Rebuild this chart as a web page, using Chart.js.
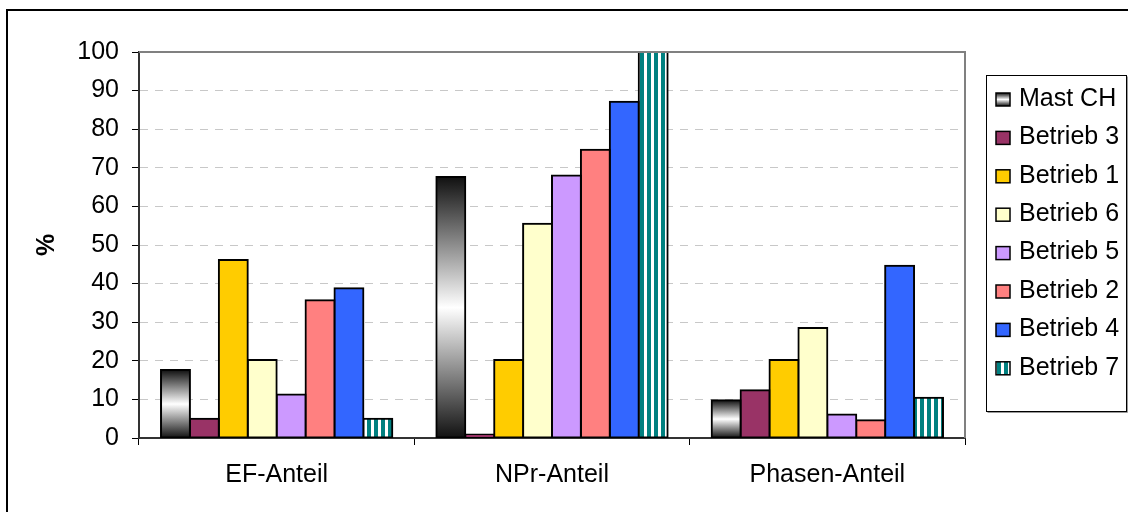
<!DOCTYPE html>
<html>
<head>
<meta charset="utf-8">
<script src="https://cdn.jsdelivr.net/npm/chart.js@4/dist/chart.umd.min.js"></script>
<style>
  html, body { margin: 0; padding: 0; background: #fff; }
  #wrap { width: 1128px; height: 512px; position: relative; }
</style>
</head>
<body>
<div id="wrap"><canvas id="c" width="1128" height="512"></canvas></div>
<script>
// Categories and per-series values (%)
const categories = ['EF-Anteil', 'NPr-Anteil', 'Phasen-Anteil'];
const seriesNames = ['Mast CH', 'Betrieb 3', 'Betrieb 1', 'Betrieb 6', 'Betrieb 5', 'Betrieb 2', 'Betrieb 4', 'Betrieb 7'];
const mastCH   = [17.6, 67.6, 9.8];
const betrieb3 = [5.0, 0.9, 12.4];
const betrieb1 = [46.1, 20.2, 20.2];
const betrieb6 = [20.2, 55.5, 28.5];
const betrieb5 = [11.3, 68.0, 6.1];
const betrieb2 = [35.7, 74.7, 4.6];
const betrieb4 = [38.8, 87.1, 44.6];
const betrieb7 = [5.0, 100, 10.4];
const yTicks = [0, 10, 20, 30, 40, 50, 60, 70, 80, 90, 100];

const FONT = '"Liberation Sans", Arial, Helvetica, sans-serif';
Chart.defaults.font.family = FONT;
Chart.defaults.color = '#000';

// Vertical teal/white stripe fill
function stripePattern() {
  const c = document.createElement('canvas');
  c.width = 7; c.height = 7;
  const g = c.getContext('2d');
  g.fillStyle = '#ffffff'; g.fillRect(0, 0, 7, 7);
  g.fillStyle = '#008080'; g.fillRect(3, 0, 4, 7);
  return g.createPattern(c, 'repeat');
}
const stripes = stripePattern();

// Black-white-black vertical gradient spanning a given pixel range
function metalGradient(ctx, top, bottom) {
  const g = ctx.createLinearGradient(0, top, 0, bottom);
  g.addColorStop(0, '#111');
  g.addColorStop(0.5, '#fff');
  g.addColorStop(1, '#111');
  return g;
}

const mastFill = (c) => {
  const chart = c.chart;
  if (!chart.chartArea || c.type !== 'data' || !chart.scales.y) return '#999';
  const y = chart.scales.y;
  return metalGradient(chart.ctx, y.getPixelForValue(c.raw), y.getPixelForValue(0));
};

const seriesValues = [mastCH, betrieb3, betrieb1, betrieb6, betrieb5, betrieb2, betrieb4, betrieb7];
const seriesFills = [mastFill, '#993366', '#FFCC00', '#FFFFCC', '#CC99FF', '#FF8080', '#3366FF', stripes];

const datasets = seriesNames.map((name, i) => ({
  label: name,
  data: seriesValues[i],
  backgroundColor: seriesFills[i],
  borderColor: '#000',
  borderWidth: 2,
  borderSkipped: false,
  inflateAmount: 1,
  barPercentage: 1.0,
  categoryPercentage: 0.84
}));

// Frame, plot border and legend box
const decor = {
  id: 'decor',
  beforeDraw(chart) {
    const ctx = chart.ctx;
    ctx.save();
    ctx.fillStyle = '#fff';
    ctx.fillRect(0, 0, chart.width, chart.height);
    ctx.restore();
  },
  afterDatasetsDraw(chart) {
    const ctx = chart.ctx, a = chart.chartArea;
    ctx.save();
    ctx.strokeStyle = '#808080';
    ctx.lineWidth = 2;
    ctx.beginPath();
    ctx.moveTo(a.left, a.top);
    ctx.lineTo(a.right, a.top);
    ctx.lineTo(a.right, a.bottom);
    ctx.stroke();
    ctx.restore();
  },
  afterDraw(chart) {
    const ctx = chart.ctx;
    ctx.save();
    // outer frame
    ctx.strokeStyle = '#000';
    ctx.lineWidth = 2;
    ctx.strokeRect(7, 10, 1300, 700);
    // legend box with a light shadow on the right/bottom
    const lx = 986.5, ly = 75.5, lw = 140, lh = 336;
    ctx.fillStyle = '#fff';
    ctx.fillRect(lx, ly, lw, lh);
    ctx.strokeStyle = '#999';
    ctx.lineWidth = 1;
    ctx.beginPath();
    ctx.moveTo(lx + 1, ly + lh + 1);
    ctx.lineTo(lx + lw + 1, ly + lh + 1);
    ctx.lineTo(lx + lw + 1, ly + 1);
    ctx.stroke();
    ctx.strokeStyle = '#000';
    ctx.strokeRect(lx, ly, lw, lh);
    ctx.font = '25px ' + FONT;
    ctx.textBaseline = 'alphabetic';
    ctx.textAlign = 'left';
    chart.data.datasets.forEach((ds, i) => {
      const base = 105.7 + i * 38.4;
      const sx = 996, sy = base - 12.7, sw = 14, sh = 13;
      let fill = ds.backgroundColor;
      if (typeof fill === 'function') fill = metalGradient(ctx, sy, sy + sh);
      ctx.fillStyle = fill;
      ctx.fillRect(sx, sy, sw, sh);
      ctx.strokeStyle = '#000';
      ctx.lineWidth = 1.5;
      ctx.strokeRect(sx, sy, sw, sh);
      ctx.fillStyle = '#000';
      ctx.fillText(ds.label, 1019, base);
    });
    ctx.restore();
  }
};

new Chart(document.getElementById('c'), {
  type: 'bar',
  data: { labels: categories, datasets },
  options: {
    responsive: false,
    animation: false,
    devicePixelRatio: 1,
    layout: { padding: { left: 0, top: 52, right: 163, bottom: 0 } },
    plugins: {
      legend: { display: false },
      tooltip: { enabled: false }
    },
    scales: {
      x: {
        offset: true,
        grid: {
          offset: true,
          drawOnChartArea: false,
          drawTicks: true,
          tickLength: 7,
          tickColor: '#000',
          tickWidth: 1
        },
        border: { display: true, color: '#333', width: 2 },
        ticks: { font: { size: 25 }, color: '#000', padding: 15 },
        afterFit(scale) { scale.height = 74; }
      },
      y: {
        min: 0,
        max: 100,
        afterBuildTicks(scale) { scale.ticks = yTicks.map(v => ({ value: v })); },
        grid: {
          color: (c) => (c.tick && (c.tick.value === 0 || c.tick.value === 100)) ? 'rgba(0,0,0,0)' : '#c8c8c8',
          lineWidth: 1,
          drawTicks: true,
          tickLength: 7,
          tickColor: '#000',
          tickWidth: 1,
          tickBorderDash: []
        },
        border: { display: true, color: '#333', width: 2, dash: [8, 7] },
        ticks: { font: { size: 25 }, color: '#000', padding: 13 },
        title: {
          display: true,
          text: '%',
          font: { size: 25, weight: 'bold' },
          color: '#000',
          padding: { top: 32, bottom: 0 }
        },
        afterFit(scale) { scale.width = 139; }
      }
    }
  },
  plugins: [decor]
});
</script>
</body>
</html>
